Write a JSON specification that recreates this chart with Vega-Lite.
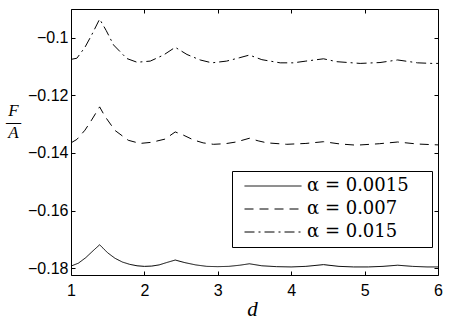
{
  "$schema": "https://vega.github.io/schema/vega-lite/v6.json",
  "width": 367,
  "height": 266,
  "autosize": "none",
  "padding": {"left": 71, "top": 9, "right": 12, "bottom": 54},
  "background": "white",
  "config": {
    "view": {"stroke": "black", "strokeWidth": 1},
    "axis": {
      "domain": false,
      "grid": false,
      "tickSize": -4,
      "tickColor": "black",
      "tickWidth": 1,
      "labelFont": "Liberation Sans",
      "labelFontSize": 16,
      "labelColor": "black",
      "labelFlush": false,
      "labelOverlap": false,
      "titleColor": "black"
    }
  },
  "datasets": {
    "curves": [
      {"d": 1.00, "F": -0.1793, "alpha": "α = 0.0015"},
      {"d": 1.10, "F": -0.1783, "alpha": "α = 0.0015"},
      {"d": 1.20, "F": -0.1764, "alpha": "α = 0.0015"},
      {"d": 1.30, "F": -0.1740, "alpha": "α = 0.0015"},
      {"d": 1.39, "F": -0.1719, "alpha": "α = 0.0015"},
      {"d": 1.50, "F": -0.1747, "alpha": "α = 0.0015"},
      {"d": 1.60, "F": -0.1766, "alpha": "α = 0.0015"},
      {"d": 1.70, "F": -0.1779, "alpha": "α = 0.0015"},
      {"d": 1.80, "F": -0.1787, "alpha": "α = 0.0015"},
      {"d": 1.90, "F": -0.1792, "alpha": "α = 0.0015"},
      {"d": 2.00, "F": -0.1794, "alpha": "α = 0.0015"},
      {"d": 2.10, "F": -0.1793, "alpha": "α = 0.0015"},
      {"d": 2.20, "F": -0.1789, "alpha": "α = 0.0015"},
      {"d": 2.30, "F": -0.1781, "alpha": "α = 0.0015"},
      {"d": 2.42, "F": -0.1772, "alpha": "α = 0.0015"},
      {"d": 2.55, "F": -0.1781, "alpha": "α = 0.0015"},
      {"d": 2.70, "F": -0.1789, "alpha": "α = 0.0015"},
      {"d": 2.85, "F": -0.1794, "alpha": "α = 0.0015"},
      {"d": 3.00, "F": -0.1795, "alpha": "α = 0.0015"},
      {"d": 3.15, "F": -0.1794, "alpha": "α = 0.0015"},
      {"d": 3.30, "F": -0.1790, "alpha": "α = 0.0015"},
      {"d": 3.43, "F": -0.1785, "alpha": "α = 0.0015"},
      {"d": 3.60, "F": -0.1792, "alpha": "α = 0.0015"},
      {"d": 3.80, "F": -0.1795, "alpha": "α = 0.0015"},
      {"d": 4.00, "F": -0.1796, "alpha": "α = 0.0015"},
      {"d": 4.20, "F": -0.1794, "alpha": "α = 0.0015"},
      {"d": 4.44, "F": -0.1788, "alpha": "α = 0.0015"},
      {"d": 4.65, "F": -0.1794, "alpha": "α = 0.0015"},
      {"d": 4.85, "F": -0.1796, "alpha": "α = 0.0015"},
      {"d": 5.05, "F": -0.1796, "alpha": "α = 0.0015"},
      {"d": 5.25, "F": -0.1794, "alpha": "α = 0.0015"},
      {"d": 5.45, "F": -0.1790, "alpha": "α = 0.0015"},
      {"d": 5.65, "F": -0.1794, "alpha": "α = 0.0015"},
      {"d": 5.85, "F": -0.1796, "alpha": "α = 0.0015"},
      {"d": 6.00, "F": -0.1796, "alpha": "α = 0.0015"},

      {"d": 1.00, "F": -0.1365, "alpha": "α = 0.007"},
      {"d": 1.08, "F": -0.1353, "alpha": "α = 0.007"},
      {"d": 1.19, "F": -0.1321, "alpha": "α = 0.007"},
      {"d": 1.28, "F": -0.1286, "alpha": "α = 0.007"},
      {"d": 1.39, "F": -0.1240, "alpha": "α = 0.007"},
      {"d": 1.46, "F": -0.1272, "alpha": "α = 0.007"},
      {"d": 1.60, "F": -0.1322, "alpha": "α = 0.007"},
      {"d": 1.78, "F": -0.1356, "alpha": "α = 0.007"},
      {"d": 1.94, "F": -0.1367, "alpha": "α = 0.007"},
      {"d": 2.10, "F": -0.1363, "alpha": "α = 0.007"},
      {"d": 2.28, "F": -0.1352, "alpha": "α = 0.007"},
      {"d": 2.42, "F": -0.1327, "alpha": "α = 0.007"},
      {"d": 2.53, "F": -0.1338, "alpha": "α = 0.007"},
      {"d": 2.67, "F": -0.1355, "alpha": "α = 0.007"},
      {"d": 2.80, "F": -0.1365, "alpha": "α = 0.007"},
      {"d": 2.94, "F": -0.1370, "alpha": "α = 0.007"},
      {"d": 3.10, "F": -0.1368, "alpha": "α = 0.007"},
      {"d": 3.25, "F": -0.1362, "alpha": "α = 0.007"},
      {"d": 3.43, "F": -0.1349, "alpha": "α = 0.007"},
      {"d": 3.55, "F": -0.1358, "alpha": "α = 0.007"},
      {"d": 3.67, "F": -0.1365, "alpha": "α = 0.007"},
      {"d": 3.94, "F": -0.1370, "alpha": "α = 0.007"},
      {"d": 4.20, "F": -0.1367, "alpha": "α = 0.007"},
      {"d": 4.44, "F": -0.1361, "alpha": "α = 0.007"},
      {"d": 4.67, "F": -0.1369, "alpha": "α = 0.007"},
      {"d": 4.89, "F": -0.1373, "alpha": "α = 0.007"},
      {"d": 5.20, "F": -0.1368, "alpha": "α = 0.007"},
      {"d": 5.45, "F": -0.1362, "alpha": "α = 0.007"},
      {"d": 5.72, "F": -0.1369, "alpha": "α = 0.007"},
      {"d": 5.90, "F": -0.1371, "alpha": "α = 0.007"},
      {"d": 6.00, "F": -0.1372, "alpha": "α = 0.007"},

      {"d": 1.00, "F": -0.1075, "alpha": "α = 0.015"},
      {"d": 1.08, "F": -0.1071, "alpha": "α = 0.015"},
      {"d": 1.19, "F": -0.1033, "alpha": "α = 0.015"},
      {"d": 1.28, "F": -0.0991, "alpha": "α = 0.015"},
      {"d": 1.39, "F": -0.0935, "alpha": "α = 0.015"},
      {"d": 1.48, "F": -0.0975, "alpha": "α = 0.015"},
      {"d": 1.58, "F": -0.1025, "alpha": "α = 0.015"},
      {"d": 1.76, "F": -0.1072, "alpha": "α = 0.015"},
      {"d": 1.90, "F": -0.1085, "alpha": "α = 0.015"},
      {"d": 2.08, "F": -0.1081, "alpha": "α = 0.015"},
      {"d": 2.26, "F": -0.1060, "alpha": "α = 0.015"},
      {"d": 2.42, "F": -0.1033, "alpha": "α = 0.015"},
      {"d": 2.58, "F": -0.1058, "alpha": "α = 0.015"},
      {"d": 2.76, "F": -0.1077, "alpha": "α = 0.015"},
      {"d": 2.92, "F": -0.1087, "alpha": "α = 0.015"},
      {"d": 3.12, "F": -0.1081, "alpha": "α = 0.015"},
      {"d": 3.30, "F": -0.1069, "alpha": "α = 0.015"},
      {"d": 3.43, "F": -0.1060, "alpha": "α = 0.015"},
      {"d": 3.60, "F": -0.1076, "alpha": "α = 0.015"},
      {"d": 3.85, "F": -0.1087, "alpha": "α = 0.015"},
      {"d": 4.03, "F": -0.1087, "alpha": "α = 0.015"},
      {"d": 4.20, "F": -0.1081, "alpha": "α = 0.015"},
      {"d": 4.44, "F": -0.1073, "alpha": "α = 0.015"},
      {"d": 4.62, "F": -0.1083, "alpha": "α = 0.015"},
      {"d": 4.94, "F": -0.1089, "alpha": "α = 0.015"},
      {"d": 5.21, "F": -0.1086, "alpha": "α = 0.015"},
      {"d": 5.45, "F": -0.1077, "alpha": "α = 0.015"},
      {"d": 5.72, "F": -0.1087, "alpha": "α = 0.015"},
      {"d": 5.92, "F": -0.1089, "alpha": "α = 0.015"},
      {"d": 6.00, "F": -0.1089, "alpha": "α = 0.015"}
    ]
  },
  "data": {"name": "curves"},
  "layer": [
    {
      "mark": {"type": "line", "color": "black", "strokeWidth": 1, "clip": true},
      "encoding": {
        "x": {
          "field": "d", "type": "quantitative",
          "scale": {"domain": [1, 6], "nice": false, "zero": false},
          "axis": {
            "orient": "bottom",
            "values": [1, 2, 3, 4, 5, 6],
            "format": "d",
            "labelPadding": 11,
            "title": "d",
            "titleFont": "Liberation Serif",
            "titleFontStyle": "italic",
            "titleFontWeight": "normal",
            "titleFontSize": 21,
            "titleX": 181,
            "titleY": 40,
            "titleBaseline": "alphabetic"
          }
        },
        "y": {
          "field": "F", "type": "quantitative",
          "scale": {"domain": [-0.1824, -0.09], "nice": false, "zero": false},
          "axis": {
            "orient": "left",
            "values": [-0.18, -0.16, -0.14, -0.12, -0.1],
            "format": "~g",
            "labelPadding": 7,
            "title": ["F", "—", "A"],
            "titleAngle": 0,
            "titleFont": "Liberation Serif",
            "titleFontStyle": "italic",
            "titleFontWeight": "normal",
            "titleFontSize": 17,
            "titleLineHeight": 11,
            "titleAlign": "center",
            "titleBaseline": "middle",
            "titleX": -58,
            "titleY": 101
          }
        },
        "strokeDash": {
          "field": "alpha", "type": "nominal",
          "scale": {
            "domain": ["α = 0.0015", "α = 0.007", "α = 0.015"],
            "range": [[1, 0], [9, 6], [10, 4, 2, 4]]
          },
          "legend": {
            "title": ".",
            "titleOrient": "right",
            "titleOpacity": 0,
            "titleFontSize": 10,
            "titlePadding": 14,
            "orient": "none",
            "legendX": 161,
            "legendY": 162,
            "padding": 6,
            "strokeColor": "black",
            "fillColor": "white",
            "symbolType": "M-4,0H4",
            "symbolSize": 203,
            "symbolStrokeColor": "black",
            "symbolStrokeWidth": 1,
            "symbolOffset": 26,
            "labelOffset": 25,
            "labelFont": "DejaVu Serif",
            "labelFontSize": 18,
            "labelColor": "black",
            "labelLimit": 0,
            "rowPadding": 5
          }
        }
      }
    },
    {
      "mark": {"type": "line", "opacity": 0},
      "encoding": {
        "x": {
          "field": "d", "type": "quantitative",
          "axis": {"orient": "top", "values": [1, 2, 3, 4, 5, 6], "labels": false, "title": null}
        },
        "y": {
          "field": "F", "type": "quantitative",
          "axis": {"orient": "right", "values": [-0.18, -0.16, -0.14, -0.12, -0.1], "labels": false, "title": null}
        },
        "detail": {"field": "alpha", "type": "nominal"}
      }
    }
  ]
}
